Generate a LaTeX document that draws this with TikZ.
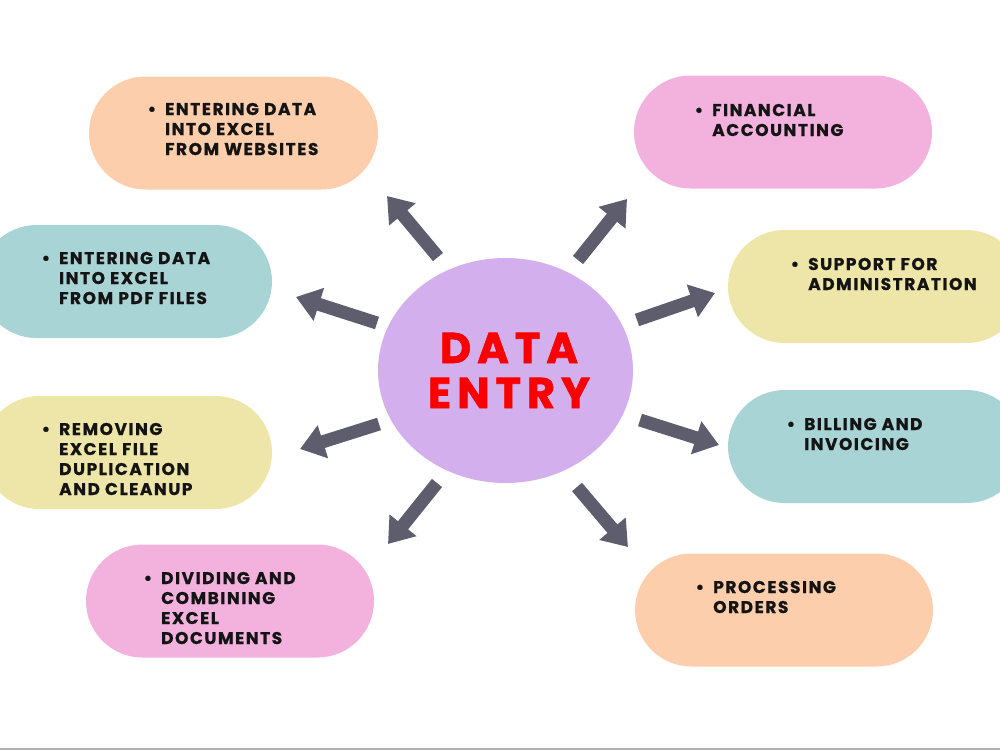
\documentclass[tikz,border=0pt]{standalone}
\usepackage{fontspec}
\setmainfont{Poppins}
\usetikzlibrary{arrows.meta,shapes.misc,shapes.geometric}
\definecolor{peach}{RGB}{253,206,172}
\definecolor{pinkbox}{RGB}{242,178,221}
\definecolor{tealbox}{RGB}{168,212,214}
\definecolor{yellowbox}{RGB}{238,229,168}
\definecolor{purplec}{RGB}{211,175,238}
\definecolor{arrowc}{RGB}{94,93,110}
\definecolor{redtxt}{RGB}{250,0,0}
\definecolor{txtc}{RGB}{20,20,20}
\definecolor{rulec}{RGB}{178,178,178}
\newcommand{\itemtext}[1]{\parbox[t]{220pt}{\raggedright\leavevmode\llap{\textbullet\hspace{9pt}}#1}}
\begin{document}
\begin{tikzpicture}[x=1pt,y=-1pt,
  pill/.style={rounded rectangle, inner sep=0pt, minimum height=113pt},
  itemlabel/.style={anchor=base west, inner sep=0pt, text=txtc, font=\fontsize{17}{20}\selectfont\bfseries\addfontfeatures{LetterSpace=9,FakeBold=0.8}},
  arr/.style={draw=arrowc, line width=13pt, -{Triangle[length=24pt,width=33pt]}}]
\useasboundingbox (0,0) rectangle (1000,750);
\clip (0,0) rectangle (1000,750);
\fill[white] (0,0) rectangle (1000,750);
% boxes
\node[pill, fill=peach, minimum width=289pt] (b1) at (233.5,133) {};
\node[pill, fill=tealbox, minimum width=292pt] (b2) at (126,281.5) {};
\node[pill, fill=yellowbox, minimum width=289pt] (b3) at (127.5,452.5) {};
\node[pill, fill=pinkbox, minimum width=288pt] (b4) at (230,601) {};
\node[pill, fill=pinkbox, minimum width=298pt] (b5) at (783,132) {};
\node[pill, fill=yellowbox, minimum width=295pt] (b6) at (875.5,286.5) {};
\node[pill, fill=tealbox, minimum width=295pt] (b7) at (875.5,446.5) {};
\node[pill, fill=peach, minimum width=298pt] (b8) at (784,610) {};
% centre
\node[ellipse, fill=purplec, minimum width=255pt, minimum height=225pt, inner sep=0pt] (c) at (505.5,370.5) {};
\node[anchor=base, inner sep=0pt, text=redtxt, font=\fontsize{43}{45}\selectfont\bfseries\addfontfeatures{LetterSpace=14,FakeBold=1.5}] (ct) at (509,363) {\parbox[t]{300pt}{\centering DATA\\ENTRY}};
% texts
\node[itemlabel] (t1) at (165,115) {\itemtext{ENTERING DATA\\INTO EXCEL\\FROM WEBSITES}};
\node[itemlabel] (t2) at (59,264) {\itemtext{ENTERING DATA\\INTO EXCEL\\FROM PDF FILES}};
\node[itemlabel] (t3) at (59,435) {\itemtext{REMOVING\\EXCEL FILE\\DUPLICATION\\AND CLEANUP}};
\node[itemlabel] (t4) at (161,584) {\itemtext{DIVIDING AND\\COMBINING\\EXCEL\\DOCUMENTS}};
\node[itemlabel] (t5) at (712,116) {\itemtext{FINANCIAL\\ACCOUNTING}};
\node[itemlabel] (t6) at (808,270) {\itemtext{SUPPORT FOR\\ADMINISTRATION}};
\node[itemlabel] (t7) at (804,430) {\itemtext{BILLING AND\\INVOICING}};
\node[itemlabel] (t8) at (713,593) {\itemtext{PROCESSING\\ORDERS}};
% arrow ends
\coordinate (a1t) at (438,257); \coordinate (a1h) at (387,196);
\coordinate (a2t) at (377,323); \coordinate (a2h) at (296,297);
\coordinate (a3t) at (379,424); \coordinate (a3h) at (300,449);
\coordinate (a4t) at (437,483); \coordinate (a4h) at (388,544);
\coordinate (a5t) at (578,260); \coordinate (a5h) at (627,199);
\coordinate (a6t) at (637,320); \coordinate (a6h) at (715,293);
\coordinate (a7t) at (640,420); \coordinate (a7h) at (719,445);
\coordinate (a8t) at (577,487); \coordinate (a8h) at (628,547);
\foreach \i in {1,...,8} {\draw[arr] (a\i t) -- (a\i h);}
% bottom rule
\coordinate (r1) at (0,749); \coordinate (r2) at (1000,749);
\draw[line width=2pt, draw=rulec] (r1) -- (r2);
\end{tikzpicture}
\end{document}
